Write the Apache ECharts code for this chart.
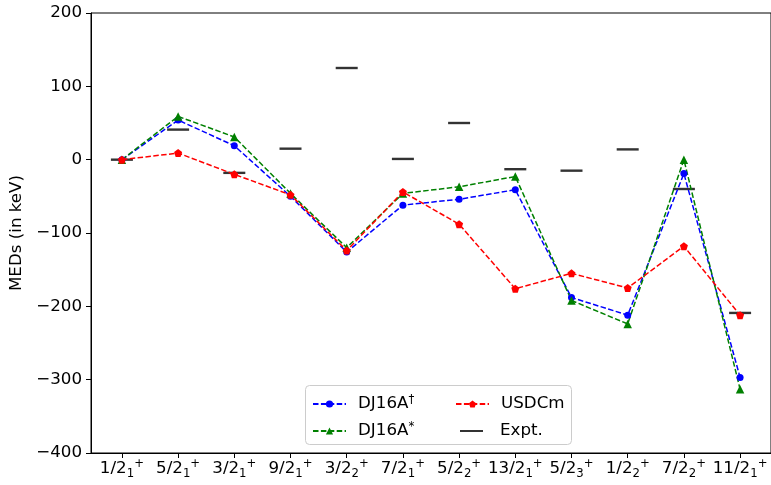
<!DOCTYPE html>
<html>
<head>
<meta charset="utf-8">
<script src="https://cdn.jsdelivr.net/npm/echarts@6/dist/echarts.min.js"></script>
<style>
  html, body { margin: 0; padding: 0; background: #fff; }
  #chart { width: 771px; height: 485px; }
</style>
</head>
<body>
<div id="chart"></div>
<script>
// Level labels: J^pi written as base fraction, subscript index and parity superscript
const levelSpins = ['1/2', '5/2', '3/2', '9/2', '3/2', '7/2', '5/2', '13/2', '5/2', '1/2', '7/2', '11/2'];
const levelIndex = ['1', '1', '1', '1', '2', '1', '2', '1', '3', '2', '2', '1'];
const levelParity = ['+', '+', '+', '+', '+', '+', '+', '+', '+', '+', '+', '+'];

// Mirror energy differences (keV)
const dj16aDagger = [0, 54, 19, -50, -126, -62, -54, -41, -188, -212, -19, -297];
const dj16aStar   = [0, 59, 31, -46, -120, -46, -37, -23, -192, -224, 0, -313];
const usdcm       = [0, 9, -20, -48, -124, -44, -88, -176, -155, -175, -118, -212];
const expt        = [0, 41, -18, 15, 125, 1, 50, -13, -15, 14, -40, -209];

// y ticks
const yTicks = [-400, -300, -200, -100, 0, 100, 200];

const FONT = 'DejaVu Sans';
const FS = 16.7;
const pentagon = 'path://M0,-1L0.951,-0.309L0.588,0.809L-0.588,0.809L-0.951,-0.309Z';
const idx = levelSpins.map((_, i) => i);
const pairs = arr => arr.map((v, i) => [i, v]);
const dash = [5.5, 2.4];

const chart = echarts.init(document.getElementById('chart'), null, { renderer: 'canvas' });

// Legend text: trailing dagger / asterisk is raised as a superscript
function legendText(padLeft) {
  return {
    fontFamily: FONT, fontSize: FS, color: '#000', lineHeight: 20,
    padding: [0, 0, 0, padLeft],
    rich: {
      sup: { fontFamily: FONT, fontSize: 11.7, color: '#000', lineHeight: 12, verticalAlign: 'top' }
    }
  };
}
const legendFormatter = name => /[\u2020*]$/.test(name)
  ? name.slice(0, -1) + '{sup|' + name.slice(-1) + '}'
  : name;

function legendItem(name, left, top, extra) {
  return Object.assign({
    data: [name],
    orient: 'vertical',
    left: left, top: top,
    padding: 0, itemWidth: 33, itemHeight: 9, itemGap: 0,
    formatter: legendFormatter,
    textStyle: legendText(7),
    z: 5
  }, extra || {});
}

const option = {
  backgroundColor: '#fff',
  animation: false,
  grid: {
    left: 91, top: 13, width: 684, height: 440,
    show: true, borderColor: '#000', borderWidth: 1, backgroundColor: 'transparent'
  },
  xAxis: {
    type: 'value',
    min: -0.55, max: 11.55,
    splitLine: { show: false },
    axisLine: { onZero: false, lineStyle: { color: '#000', width: 1 } },
    axisTick: { show: true, inside: false, length: 5, customValues: idx, lineStyle: { color: '#000' } },
    axisLabel: {
      customValues: idx,
      margin: 5,
      color: '#000',
      fontFamily: FONT,
      fontSize: FS,
      formatter: v => {
        const i = Math.round(v);
        return '{b|' + levelSpins[i] + '}{s|' + levelIndex[i] + '}{p|' + levelParity[i] + '}';
      },
      rich: {
        b: { fontFamily: FONT, fontSize: FS, color: '#000', lineHeight: 22, verticalAlign: 'middle' },
        s: { fontFamily: FONT, fontSize: 11.7, color: '#000', lineHeight: 12, verticalAlign: 'bottom' },
        p: { fontFamily: FONT, fontSize: 11.7, color: '#000', lineHeight: 12, verticalAlign: 'top' }
      }
    }
  },
  yAxis: {
    type: 'value',
    min: yTicks[0], max: yTicks[yTicks.length - 1], interval: 100,
    name: 'MEDs (in keV)',
    nameLocation: 'middle',
    nameGap: 56,
    nameRotate: 90,
    nameTextStyle: { fontFamily: FONT, fontSize: FS, color: '#000' },
    splitLine: { show: false },
    axisLine: { show: true, onZero: false, lineStyle: { color: '#000', width: 1 } },
    axisTick: { show: true, inside: false, length: 5, lineStyle: { color: '#000' } },
    axisLabel: {
      margin: 9,
      color: '#000',
      fontFamily: FONT,
      fontSize: FS,
      formatter: v => String(v).replace('-', '\u2212')
    }
  },
  graphic: [{
    type: 'rect',
    z: 1,
    shape: { x: 305.5, y: 385.5, width: 266, height: 59, r: 4 },
    style: { fill: 'rgba(255,255,255,0.8)', stroke: '#cccccc', lineWidth: 1 }
  }],
  legend: [
    legendItem('DJ16A\u2020', 312, 394),
    legendItem('DJ16A*', 312, 421),
    legendItem('USDCm', 455, 394),
    legendItem({ name: 'Expt.', icon: 'rect' }, 460, 421,
      { itemWidth: 23, itemHeight: 2, textStyle: legendText(12) })
  ],
  series: [
    {
      name: 'DJ16A\u2020',
      type: 'line',
      data: pairs(dj16aDagger),
      symbol: 'circle', symbolSize: 7,
      itemStyle: { color: '#0000ff' },
      lineStyle: { color: '#0000ff', width: 1.5, type: dash },
      z: 3
    },
    {
      name: 'DJ16A*',
      type: 'line',
      data: pairs(dj16aStar),
      symbol: 'triangle', symbolSize: 8.5,
      itemStyle: { color: '#008000' },
      lineStyle: { color: '#008000', width: 1.5, type: dash },
      z: 3
    },
    {
      name: 'USDCm',
      type: 'line',
      data: pairs(usdcm),
      symbol: pentagon, symbolSize: 8,
      itemStyle: { color: '#ff0000' },
      lineStyle: { color: '#ff0000', width: 1.5, type: dash },
      z: 3
    },
    {
      name: 'Expt.',
      type: 'scatter',
      data: pairs(expt),
      symbol: 'rect', symbolSize: [22, 2.4],
      itemStyle: { color: '#000' },
      z: 2
    }
  ]
};

chart.setOption(option);
</script>
</body>
</html>
